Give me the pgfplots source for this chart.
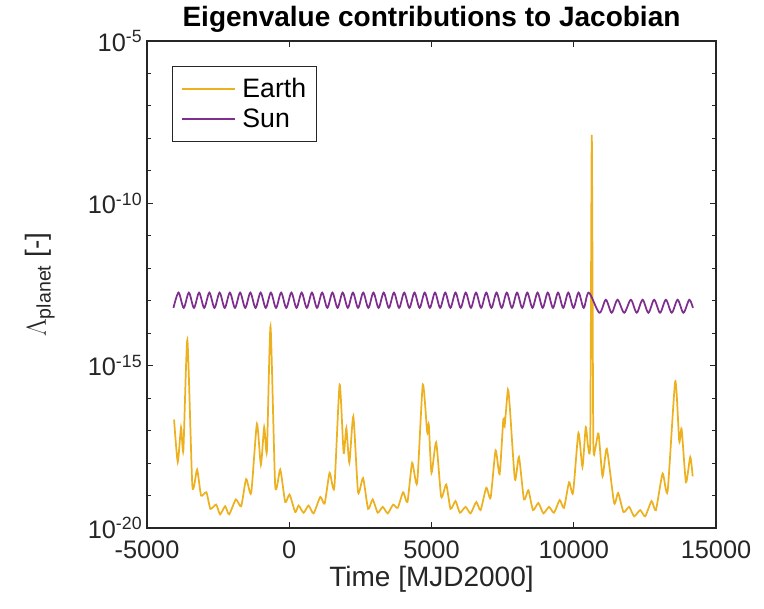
\documentclass[border=0pt]{standalone}
\usepackage{fontspec}
\setmainfont{Liberation Sans}
\usepackage{amsmath}
\usepackage{pgfplots}
\pgfplotsset{compat=1.18}
\definecolor{earthc}{HTML}{EDB120}
\definecolor{sunc}{HTML}{7E2F8E}
\definecolor{axc}{HTML}{262626}
\begin{document}
\begin{tikzpicture}
\begin{axis}[
  scale only axis,
  width=426.75pt, height=365.25pt,
  xmin=-5000, xmax=15000,
  ymode=log, ymin=1e-20, ymax=1e-5,
  scaled x ticks=false,
  xtick={-5000,0,5000,10000,15000},
  xticklabels={-5000,0,5000,10000,15000},
  ytick={1e-20,1e-15,1e-10,1e-5},
  yticklabels={10\textsuperscript{-20},10\textsuperscript{-15},10\textsuperscript{-10},10\textsuperscript{-5}},
  minor ytick={1e-19,1e-18,1e-17,1e-16,1e-14,1e-13,1e-12,1e-11,1e-9,1e-8,1e-7,1e-6},
  tick align=inside,
  major tick length=4.5pt, minor tick length=3pt,
  axis line style={axc, line width=0.9pt},
  every tick/.style={axc, line width=0.8pt},
  tick label style={font=\fontsize{19}{19}\selectfont, text=axc},
  xticklabel style={yshift=-6pt},
  xlabel={Time [MJD2000]},
  ylabel={$\Lambda_{\text{planet}}$ [-]},
  label style={font=\fontsize{21}{21}\selectfont, text=axc},
  xlabel style={yshift=1pt},
  ylabel shift=18pt,
  title={Eigenvalue contributions to Jacobian},
  title style={font=\bfseries\fontsize{21}{21}\selectfont, yshift=-3pt},
  legend style={at={(0,1)}, anchor=north west, xshift=19pt, yshift=-18.5pt,
    draw=axc, line width=0.8pt, font=\fontsize{20}{22}\selectfont,
    inner xsep=6pt, inner ysep=7pt, row sep=3pt},
  legend cell align=left,
  legend image code/.code={\draw[#1, line width=1pt] (0pt,0pt) -- (40pt,0pt); \path (43pt,0pt);},
]
\addplot[earthc, line width=1.3pt, smooth, tension=0.35] coordinates {
(-4049,2.19e-17) (-3919,1.07e-18) (-3803,1.26e-17) (-3722,2.45e-18) (-3581,6.31e-15)
(-3405,1.95e-19) (-3239,6.31e-19) (-3099,1.0e-19) (-2912,1.26e-19) (-2771,3.89e-20)
(-2570,5.25e-20) (-2430,2.63e-20) (-2254,4.68e-20) (-2113,2.63e-20) (-1877,7.59e-20)
(-1690,4.68e-20) (-1514,3.24e-19) (-1338,1.20e-19) (-1137,1.62e-17) (-997,8.91e-19)
(-880,1.29e-17) (-785,2.29e-18) (-658,1.62e-14) (-493,1.95e-19) (-317,6.31e-19)
(-141,6.31e-20) (11,1.07e-19) (211,3.09e-20) (328,4.90e-20) (504,2.95e-20)
(680,4.90e-20) (856,2.82e-20) (1092,9.12e-20) (1243,5.62e-20) (1419,5.01e-19)
(1584,1.74e-19) (1771,2.63e-16) (1912,2.04e-18) (2007,1.20e-17) (2113,1.02e-18)
(2253,2.75e-17) (2419,1.26e-19) (2595,3.47e-19) (2771,3.89e-20) (2933,7.59e-20)
(3109,2.95e-20) (3285,4.47e-20) (3461,2.82e-20) (3651,5.25e-20) (3813,4.17e-20)
(4003,1.26e-19) (4155,6.31e-20) (4320,1.02e-18) (4496,2.45e-19) (4694,2.63e-16)
(4849,8.91e-18) (4905,1.51e-17) (5000,5.01e-19) (5165,4.37e-18) (5341,9.12e-20)
(5518,2.19e-19) (5669,3.89e-20) (5845,6.76e-20) (5997,2.95e-20) (6197,4.47e-20)
(6373,2.82e-20) (6574,6.31e-20) (6725,3.55e-20) (6926,1.74e-19) (7077,8.51e-20)
(7253,2.45e-18) (7394,4.57e-19) (7524,2.19e-17) (7570,1.35e-17) (7687,1.82e-16)
(7757,4.68e-17) (7933,3.09e-19) (8074,1.55e-18) (8250,7.59e-20) (8405,1.45e-19)
(8567,3.55e-20) (8757,5.89e-20) (8933,2.82e-20) (9130,4.47e-20) (9306,2.95e-20)
(9506,7.24e-20) (9658,4.17e-20) (9835,2.57e-19) (9975,1.20e-19) (10165,8.51e-18)
(10306,7.59e-19) (10422,1.29e-17) (10503,3.31e-18) (10581,6.31e-18) (10634,1.29e-8)
(10686,6.31e-18) (10750,2.63e-18) (10870,8.13e-18) (11011,3.89e-19) (11162,2.75e-18)
(11419,5.89e-20) (11560,1.20e-19) (11750,3.09e-20) (11947,4.47e-20) (12123,2.29e-20)
(12335,3.55e-20) (12511,2.29e-20) (12736,6.76e-20) (12887,3.55e-20) (13123,4.79e-19)
(13299,1.35e-19) (13567,3.31e-16) (13708,4.68e-18) (13792,1.12e-17) (13944,2.57e-19)
(14095,1.55e-18) (14180,3.89e-19)
};
\addlegendentry{Earth}
\addplot[sunc, line width=1.3pt, smooth] coordinates {
(-4070,6.03e-14) (-3890,1.78e-13) (-3710,6.03e-14) (-3529,1.78e-13) (-3349,6.03e-14)
(-3169,1.78e-13) (-2989,6.03e-14) (-2808,1.78e-13) (-2628,6.03e-14) (-2448,1.78e-13)
(-2268,6.03e-14) (-2087,1.78e-13) (-1907,6.03e-14) (-1727,1.78e-13) (-1547,6.03e-14)
(-1366,1.78e-13) (-1186,6.03e-14) (-1006,1.78e-13) (-826,6.03e-14) (-645,1.78e-13)
(-465,6.03e-14) (-285,1.78e-13) (-105,6.03e-14) (76,1.78e-13) (256,6.03e-14)
(436,1.78e-13) (617,6.03e-14) (797,1.78e-13) (977,6.03e-14) (1157,1.78e-13)
(1338,6.03e-14) (1518,1.78e-13) (1698,6.03e-14) (1878,1.78e-13) (2059,6.03e-14)
(2239,1.78e-13) (2419,6.03e-14) (2599,1.78e-13) (2780,6.03e-14) (2960,1.78e-13)
(3140,6.03e-14) (3320,1.78e-13) (3501,6.03e-14) (3681,1.78e-13) (3861,6.03e-14)
(4041,1.78e-13) (4222,6.03e-14) (4402,1.78e-13) (4582,6.03e-14) (4762,1.78e-13)
(4943,6.03e-14) (5123,1.78e-13) (5303,6.03e-14) (5483,1.78e-13) (5664,6.03e-14)
(5844,1.78e-13) (6024,6.03e-14) (6204,1.78e-13) (6385,6.03e-14) (6565,1.78e-13)
(6745,6.03e-14) (6925,1.78e-13) (7106,6.03e-14) (7286,1.78e-13) (7466,6.03e-14)
(7646,1.78e-13) (7827,6.03e-14) (8007,1.78e-13) (8187,6.03e-14) (8367,1.78e-13)
(8548,6.03e-14) (8728,1.78e-13) (8908,6.03e-14) (9088,1.78e-13) (9269,6.03e-14)
(9449,1.78e-13) (9629,6.03e-14) (9809,1.78e-13) (9990,6.03e-14) (10170,1.78e-13)
(10350,6.03e-14) (10530,1.78e-13)
(10900,4.27e-14) (11127,1.07e-13) (11333,4.27e-14) (11539,1.07e-13) (11773,4.27e-14)
(12007,1.07e-13) (12213,4.27e-14) (12419,1.07e-13) (12623,4.27e-14) (12827,1.07e-13)
(13033,4.27e-14) (13239,1.07e-13) (13445,4.27e-14) (13651,1.07e-13) (13855,4.27e-14)
(14060,1.07e-13) (14190,6.0e-14)
};
\addlegendentry{Sun}
\end{axis}
\pgfresetboundingbox
\path ([shift={(-110.25pt,-60.75pt)}]current axis.south west) rectangle ([shift={(36pt,30.75pt)}]current axis.north east);
\end{tikzpicture}
\end{document}
